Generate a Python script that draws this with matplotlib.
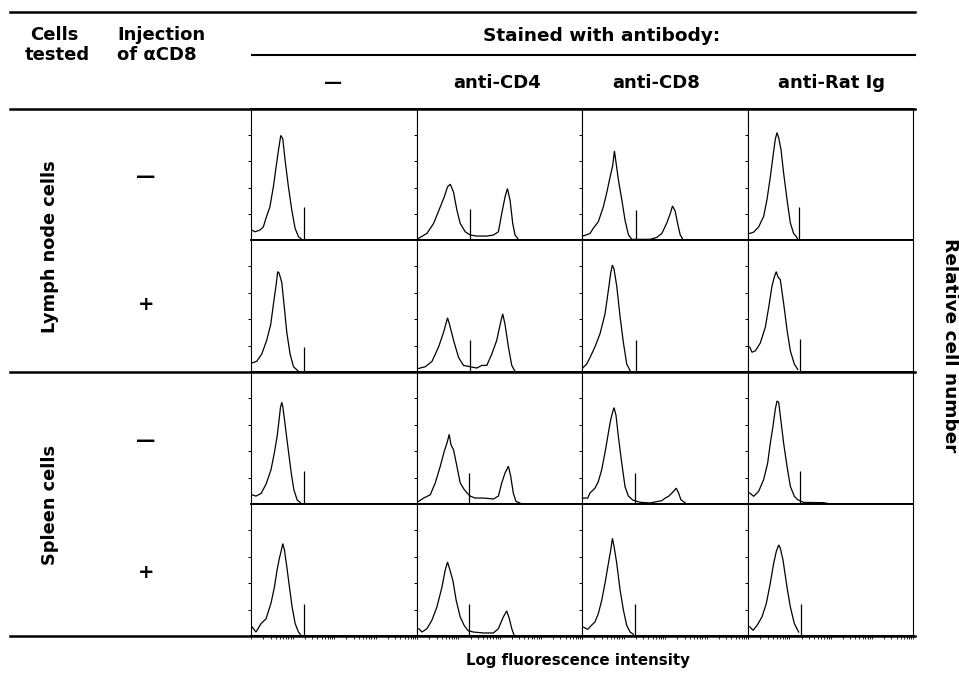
import matplotlib
matplotlib.use("Agg")
import matplotlib.pyplot as plt
from matplotlib.lines import Line2D
from matplotlib.ticker import FixedLocator, NullFormatter
import numpy as np

# ---------------- data (channel 0-256 on a 4-decade log scale, count as % of panel height) -------------
column_labels = ["\u2014", "anti-CD4", "anti-CD8", "anti-Rat Ig"]
row_groups = ["Lymph node cells", "Spleen cells"]
injection_labels = ["\u2014", "+", "\u2014", "+"]

# Lymph node, no injection
LNm_none_x = [1, 6.2, 13.9, 19, 24, 29, 34.5, 38.7, 42.3, 45.9, 49, 52.6, 57.7, 62.9, 68, 73.2, 78.4]
LNm_none_y = [7.6, 6.3, 7.6, 10, 18, 25, 40.6, 55.8, 68.4, 79.8, 77.3, 60.8, 40.6, 22.8, 8.9, 2.5, 0.5]
LNm_cd4_x = [2.6, 15.5, 25.8, 36.1, 42.3, 47.4, 51.6, 56.7, 61.9, 67, 74.8, 82.5, 92.8, 108.3, 118.6, 126.3,
             131.5, 136.6, 140.3, 144.4, 148.5, 152.1, 157.3]
LNm_cd4_y = [1.3, 5.1, 12.7, 25.3, 32.9, 40.6, 42.6, 36.5, 22.8, 12.7, 6.3, 3.8, 3.0, 3.0, 3.8, 6.3,
             20.3, 32.9, 39.3, 30.4, 12.7, 3.8, 0.5]
LNm_cd8_x = [1, 7.2, 12.4, 17.5, 25.2, 33, 38.1, 43.3, 47.4, 50, 52.5, 56.1, 61.3, 66.4, 71.6, 76.7,
             105, 115.4, 123.1, 130.8, 136, 139.6, 143.7, 147.3, 151.4, 155.5]
LNm_cd8_y = [3, 4, 5, 9, 14, 25.5, 36, 48, 57, 68, 59, 46, 31, 15, 4, 0.5,
             0.5, 2, 5, 13, 20, 26, 22, 13, 4, 0.5]
LNm_rat_x = [2.6, 8.8, 16.5, 24.3, 29.5, 34.6, 38.8, 42.4, 45, 47.6, 51.2, 55.3, 60.5, 65.7, 70.8, 75, 77.5]
LNm_rat_y = [5, 6, 10, 18, 31, 48, 64, 77, 82, 78, 69, 51, 31, 13, 5, 2.5, 0.5]

# Lymph node, anti-CD8 injected
LNp_none_x = [1, 8.8, 16.5, 24.2, 30.4, 34.5, 38.7, 41.2, 43.3, 47.4, 51, 55.2, 60.3, 65.5, 73.2]
LNp_none_y = [6.8, 8.1, 13.5, 24, 36, 51, 66, 76, 75, 68, 51, 30, 13.5, 4, 0.5]
LNp_cd4_x = [2.6, 12.9, 23.2, 33.5, 41.2, 47.4, 50.5, 56.7, 64.5, 72.2, 82.5, 92.8, 100.5, 108.3, 116,
             123.7, 129.9, 133, 136.6, 141.8, 147, 152.1]
LNp_cd4_y = [2.7, 4, 8, 19, 30, 41, 36, 24, 11, 5, 4, 3, 5, 5, 13.5, 24, 38, 44, 36, 19, 5, 0.5]
LNp_cd8_x = [1, 7.2, 12.4, 20, 27.8, 35.5, 40.7, 44.3, 46.8, 49.4, 53.6, 58.7, 63.9, 69, 74.2]
LNp_cd8_y = [3, 6, 11, 19, 29, 44, 62, 75, 81, 78, 65, 42, 22, 6, 1]
LNp_rat_x = [2.6, 6.2, 11.4, 19.1, 26.9, 32.1, 37.2, 40.8, 43.9, 46.5, 50.1, 55.3, 60.5, 65.7, 71.9, 77.1]
LNp_rat_y = [19, 15, 16, 22, 34, 49, 65, 72, 76, 72, 70, 52, 32, 16, 6, 2]

# Spleen, no injection
SPm_none_x = [1.5, 7.7, 15.5, 23.2, 30.9, 36.1, 40.2, 42.8, 45.4, 47.4, 49, 51.6, 56.7, 61.9, 66, 71.2, 76.3]
SPm_none_y = [7, 6, 8, 15, 26, 39, 51, 61.5, 73, 77, 74, 64, 44, 24, 11, 3, 1]
SPm_cd4_x = [2.6, 10.3, 20.6, 28.4, 36.1, 42.3, 46.4, 50, 52.6, 56.7, 61.9, 67, 73.2, 78.4, 82.5, 90.2,
             103.1, 118.6, 126.3, 131.5, 136.6, 141.8, 145.4, 149.5, 153.6, 159.8]
SPm_cd4_y = [2, 4.5, 7, 16, 28.6, 40, 46, 52.7, 45, 41, 28.6, 16, 11, 8, 6, 4.5,
             4.5, 3.8, 6, 16, 23.5, 28.6, 21, 8, 2, 0.7]
SPm_cd8_x = [1, 8.8, 12.4, 20, 25.2, 30.4, 35.5, 40.7, 44.3, 47.4, 49.4, 52.5, 56.1, 61.3, 66.4, 71.6, 78.3,
             89.6, 105, 115.4, 123.1, 128.3, 133.4, 140.1, 145.3, 148.9, 152.5, 159.2]
SPm_cd8_y = [4.5, 4.5, 8.4, 12, 17, 26, 39, 54, 64, 70, 73, 67, 51, 31, 13, 6, 3,
             1.3, 0.8, 1.8, 2.5, 4.5, 5.8, 9, 12, 8.4, 3.3, 0.8]
SPm_rat_x = [2.6, 8.8, 16.5, 24.3, 30.5, 34.6, 38.8, 42.4, 45, 47.6, 50.1, 55.3, 60.5, 65.7, 71.9, 77,
             86.3, 117, 125]
SPm_rat_y = [8.4, 5.8, 9.6, 18.5, 31, 46, 59, 72, 78, 77, 67, 46, 28.6, 13.4, 5.8, 3.3, 1.2, 1, 0.3]

# Spleen, anti-CD8 injected
SPp_none_x = [1.5, 7.7, 15.5, 23.2, 30.9, 36.1, 40.2, 43.8, 46.4, 49, 51.6, 55.2, 59.3, 63.4, 68.1, 73.2, 77.3]
SPp_none_y = [7, 3, 9.4, 13, 25, 37, 50, 59, 64, 70, 65, 52.5, 37, 22, 9.4, 3, 0.5]
SPp_cd4_x = [2.6, 7.7, 15.5, 23.2, 30.9, 38.7, 43.8, 47.4, 50.5, 55.7, 60.8, 67, 73.2, 79.4, 87.7, 103.1,
             118.6, 126.3, 134, 139.2, 143.3, 147, 150.6]
SPp_cd4_y = [5.6, 3, 5.6, 12, 22, 37, 50, 56, 51, 42, 27, 14.5, 8, 4, 3, 2.3, 2.3, 5.6, 14.5, 19, 13, 5.6, 0.5]
SPp_cd8_x = [1, 8.8, 12.4, 20, 25.2, 30.4, 35.5, 40.7, 44.3, 46.9, 49.4, 53.6, 58.7, 63.9, 69, 74.2, 79.3]
SPp_cd8_y = [7, 5, 7, 10.7, 17, 27, 40, 55, 65, 74, 68, 55, 35, 19.5, 8, 3, 1.3]
SPp_rat_x = [2.6, 7.8, 14, 21.7, 28.4, 34.6, 39.8, 43.9, 47.6, 50.1, 54.3, 60.5, 65.7, 71.9, 78.6]
SPp_rat_y = [7, 4.3, 8, 14.5, 24.6, 40, 55, 64, 69, 66.5, 57.6, 37, 22, 9.4, 3]

# gate marker (channel, height) per panel
marker_ch_LNm = [81.5, 81.5, 83, 79.5]
marker_h_LNm = [25, 24, 23, 25]
marker_ch_LNp = [81, 81.5, 83, 81]
marker_h_LNp = [19, 24, 24, 25]
marker_ch_SPm = [81.5, 81, 82, 81]
marker_h_SPm = [25, 23.5, 23.5, 25]
marker_ch_SPp = [81.5, 81, 82, 82]
marker_h_SPp = [24.6, 24.6, 24.6, 24.6]

rows = [
    [(LNm_none_x, LNm_none_y), (LNm_cd4_x, LNm_cd4_y), (LNm_cd8_x, LNm_cd8_y), (LNm_rat_x, LNm_rat_y)],
    [(LNp_none_x, LNp_none_y), (LNp_cd4_x, LNp_cd4_y), (LNp_cd8_x, LNp_cd8_y), (LNp_rat_x, LNp_rat_y)],
    [(SPm_none_x, SPm_none_y), (SPm_cd4_x, SPm_cd4_y), (SPm_cd8_x, SPm_cd8_y), (SPm_rat_x, SPm_rat_y)],
    [(SPp_none_x, SPp_none_y), (SPp_cd4_x, SPp_cd4_y), (SPp_cd8_x, SPp_cd8_y), (SPp_rat_x, SPp_rat_y)],
]
markers = [(marker_ch_LNm, marker_h_LNm), (marker_ch_LNp, marker_h_LNp),
           (marker_ch_SPm, marker_h_SPm), (marker_ch_SPp, marker_h_SPp)]

# ---------------- layout ----------------
W, H = 959, 679
fig = plt.figure(figsize=(W / 100, H / 100), dpi=100)
fig.patch.set_facecolor("white")

def fx(px):
    return px / W

def fy(py):
    return 1 - py / H

col_edges = [251, 417, 582, 748, 913]
row_edges = [109, 240, 372, 504, 636]

FONT = "DejaVu Sans"
TXT = dict(family=FONT, fontweight="bold", color="black")

minor_log = [64 * (d + np.log10(k)) for d in range(4) for k in range(1, 10)] + [256]

for i in range(4):
    for j in range(4):
        ax = fig.add_axes([fx(col_edges[j]), fy(row_edges[i + 1]),
                           (col_edges[j + 1] - col_edges[j]) / W,
                           (row_edges[i + 1] - row_edges[i]) / H])
        xs, ys = rows[i][j]
        ax.plot(xs, ys, color="black", lw=0.9, solid_joinstyle="miter")
        mch, mh = markers[i]
        ax.vlines(mch[j], 0, mh[j], color="black", lw=0.9)
        ax.set_xlim(0, 256)
        ax.set_ylim(0, 100)
        for s in ["left", "right"]:
            ax.spines[s].set_linewidth(0.8)
        for s in ["top", "bottom"]:
            ax.spines[s].set_linewidth(1.4)
        ax.yaxis.set_major_locator(FixedLocator([20, 40, 60, 80]))
        ax.yaxis.set_major_formatter(NullFormatter())
        ax.tick_params(axis="y", direction="out", length=2.5, width=0.7)
        if i == 3:
            ax.xaxis.set_major_locator(FixedLocator(minor_log))
            ax.xaxis.set_major_formatter(NullFormatter())
            ax.tick_params(axis="x", direction="out", length=2.5, width=0.6)
        else:
            ax.set_xticks([])

# horizontal rules
def hrule(x0, x1, y, lw):
    fig.add_artist(Line2D([fx(x0), fx(x1)], [fy(y), fy(y)], transform=fig.transFigure,
                          color="black", lw=lw))

hrule(10, 915, 12, 1.8)
hrule(252, 915, 55, 1.5)
hrule(10, 915, 109, 1.8)
hrule(10, 915, 372, 1.8)
hrule(10, 915, 636, 1.8)

# header texts
fs = 13
fig.text(fx(54), fy(35), "Cells", ha="center", va="center", fontsize=fs, **TXT)
fig.text(fx(57), fy(55), "tested", ha="center", va="center", fontsize=fs, **TXT)
fig.text(fx(117), fy(35), "Injection", ha="left", va="center", fontsize=fs, **TXT)
fig.text(fx(117), fy(55), "of \u03b1CD8", ha="left", va="center", fontsize=fs, **TXT)
fig.text(fx(602), fy(36), "Stained with antibody:", ha="center", va="center", fontsize=13.3, **TXT)
header_x = [333, 497, 656, 832]
for hx, lab in zip(header_x, column_labels):
    fig.text(fx(hx), fy(83), lab, ha="center", va="center", fontsize=fs, **TXT)

# row labels
fig.text(fx(50), fy(247), row_groups[0], ha="center", va="center", rotation=90, fontsize=12.8, **TXT)
fig.text(fx(50), fy(505), row_groups[1], ha="center", va="center", rotation=90, fontsize=12.8, **TXT)
inj_y = [176, 305, 441, 573]
for iy, lab in zip(inj_y, injection_labels):
    fig.text(fx(146), fy(iy), lab, ha="center", va="center", fontsize=14, **TXT)

fig.text(fx(578), fy(660), "Log fluorescence intensity", ha="center", va="center", fontsize=10.8, **TXT)
fig.text(fx(950), fy(345), "Relative cell number", ha="center", va="center", rotation=-90,
         fontsize=13.3, **TXT)

fig.savefig("out.png", dpi=100, facecolor="white")
